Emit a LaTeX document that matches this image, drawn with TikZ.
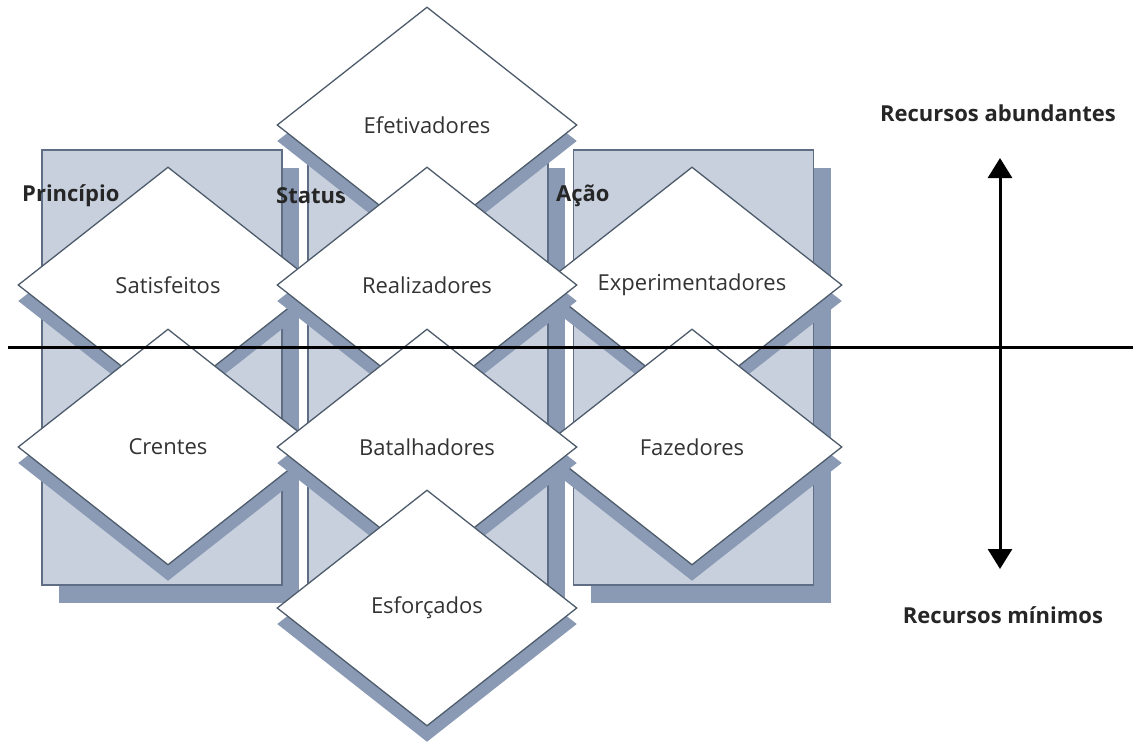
\documentclass[tikz,border=0pt]{standalone}
\usepackage{fontspec}
\setmainfont{Open Sans}
\usetikzlibrary{shapes.geometric,shadows,arrows.meta}
\definecolor{colfill}{HTML}{C8D0DE}
\definecolor{colshadow}{HTML}{8A9AB4}
\definecolor{colborder}{HTML}{5F6E85}
\definecolor{diaborder}{HTML}{4D5B6B}
\definecolor{txtc}{HTML}{333333}
\tikzset{
  colbox/.style={draw=colborder, line width=1.4pt, fill=colfill, minimum width=240pt, minimum height=435pt, inner sep=0pt,
    drop shadow={shadow xshift=17pt, shadow yshift=-18pt, fill=colshadow, opacity=1}},
  dia/.style={shape=diamond, draw=diaborder, line width=1.3pt, fill=white, minimum width=300pt, minimum height=236pt, inner sep=0pt,
    text=txtc, font=\fontsize{22}{26}\selectfont,
    drop shadow={shadow xshift=0pt, shadow yshift=-16pt, fill=colshadow, opacity=1}},
  collabel/.style={anchor=west, inner sep=0pt, font=\bfseries\fontsize{22}{26}\selectfont, text=black!85},
  axlabel/.style={inner sep=0pt, font=\bfseries\fontsize{22}{26}\selectfont, text=black!85},
  axis/.style={line width=3pt, black}
}
\begin{document}
\begin{tikzpicture}[x=1pt,y=-1pt]
\useasboundingbox (0,0) rectangle (1133,744);
% columns
\node[colbox] (cprin) at (162,367.5) {};
\node[colbox] (cstat) at (428,367.5) {};
\node[colbox] (cacao) at (693.5,367.5) {};
\node[collabel] (lprin) at (22,196) {Princípio};
\node[collabel] (lstat) at (276,196) {Status};
\node[collabel] (lacao) at (556,196) {Ação};
% diamonds
\node[dia] (efet) at (427,125) {Efetivadores};
\node[dia] (sati) at (168,285) {Satisfeitos};
\node[dia] (expe) at (692,285) {Experimentadores};
\node[dia] (real) at (427,285) {Realizadores};
\node[dia] (cren) at (168,447) {Crentes};
\node[dia] (faze) at (692,447) {Fazedores};
\node[dia] (bata) at (427,447) {Batalhadores};
\node[dia] (esfo) at (427,608) {Esforçados};
% axes
\coordinate (hl) at (8,347);
\coordinate (hr) at (1133,347);
\draw[axis] (hl) -- (hr);
\coordinate (atop) at (1000,158);
\coordinate (abot) at (1000,569);
\draw[axis, {Triangle[width=24pt,length=20pt]}-{Triangle[width=24pt,length=20pt]}] (abot) -- (atop);
\node[axlabel] (rabun) at (998,113) {Recursos abundantes};
\node[axlabel] (rmin) at (1003,615) {Recursos mínimos};
\end{tikzpicture}
\end{document}
